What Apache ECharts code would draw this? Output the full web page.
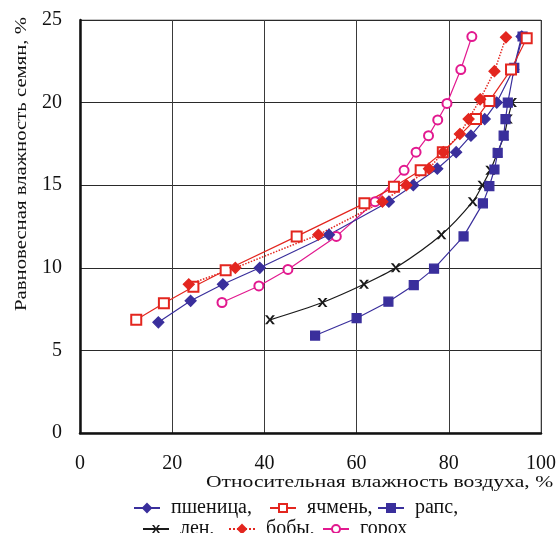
<!DOCTYPE html>
<html>
<head>
<meta charset="utf-8">
<script src="https://cdn.jsdelivr.net/npm/echarts@6/dist/echarts.min.js"></script>
<style>
  html, body { margin: 0; padding: 0; background: #fff; }
  #chart { width: 559px; height: 533px; }
</style>
</head>
<body>
<div id="chart"></div>
<script>
// Sorption isotherms: air relative humidity (%) vs. equilibrium seed moisture (%)
const xTicks = [0, 20, 40, 60, 80, 100];
const yTicks = [0, 5, 10, 15, 20, 25];

const wheat = [[17,6.7],[24,8],[31,9],[39,10],[54,12],[67,14],[72.3,15],[77.5,16],[81.6,17],[84.8,18],[87.8,19],[90.4,20],[94,22],[95.8,24]];
const barley = [[12.2,6.85],[18.2,7.85],[24.6,8.85],[31.6,9.85],[47,11.9],[61.7,13.9],[68.1,14.9],[73.9,15.9],[78.7,17],[85.9,19],[88.8,20.1],[93.5,22],[96.9,23.9]];
const rapeseed = [[51,5.9],[60,6.95],[66.9,7.95],[72.4,8.95],[76.8,9.95],[83.2,11.9],[87.4,13.9],[88.8,14.95],[89.9,15.95],[90.6,16.95],[91.9,18],[92.3,19],[92.8,20],[94.2,22.1],[96,24]];
const flax = [[41.2,6.85],[52.6,7.9],[61.6,9],[68.5,10],[78.4,12],[85.2,14],[87.3,15],[89,15.9],[90.6,17],[92,18],[92.8,19],[93.7,20]];
const beans = [[23.6,9],[33.7,10],[51.7,12],[65.6,14],[70.8,15],[75.7,16],[78.8,17],[82.4,18.1],[84.3,19],[86.8,20.2],[89.9,21.9],[92.4,23.95]];
const peas = [[30.8,7.9],[38.8,8.9],[45.1,9.9],[55.6,11.9],[64,14],[70.3,15.9],[72.9,17],[75.6,18],[77.6,18.95],[79.6,19.95],[82.6,22],[85,24]];

const names = ['пшеница', 'ячмень', 'рапс', 'лен', 'бобы', 'горох'];
const legendLabels = ['пшеница,', 'ячмень,', 'рапс,', 'лен,', 'бобы,', 'горох'];

const FONT = '"Liberation Serif", "DejaVu Serif", serif';
const NAVY = '#3a2f9c';
const RED = '#e3261f';
const MAGENTA = '#e2198f';
const BLACK = '#1a1a1a';

// serif-style "x" marker for flax
const xMark = 'path://M0,0 L3,0 L6,4 L9,0 L12,0 L7.5,5.5 L12,11 L9,11 L6,7 L3,11 L0,11 L4.5,5.5 Z';

function lineSeries(name, data, color, symbol, size, extra) {
  return Object.assign({
    name: name,
    type: 'line',
    data: data,
    symbol: symbol,
    symbolSize: size,
    showAllSymbol: true,
    lineStyle: { color: color, width: 1.2 },
    itemStyle: { color: color, borderColor: color, borderWidth: 1.2 },
    emphasis: { disabled: true },
    animation: false,
    z: 3
  }, extra || {});
}

// one legend per item so each entry sits at its own spot
const legendPos = [
  [133, 498], [269, 498], [377, 498],
  [142, 519], [228, 519], [322, 519]
];
const legends = names.map((n, i) => ({
  data: [n],
  left: legendPos[i][0],
  top: legendPos[i][1],
  itemWidth: 26,
  itemHeight: 10,
  padding: 0,
  selectedMode: false,
  formatter: () => legendLabels[i],
  textStyle: { fontFamily: FONT, fontSize: 20, color: '#111', padding: [0, 0, 0, 6] }
}));

const chart = echarts.init(document.getElementById('chart'), null, { renderer: 'canvas' });
chart.setOption({
  backgroundColor: '#fff',
  animation: false,
  grid: {
    left: 80, top: 20, right: 17, bottom: 100,
    show: true, borderColor: '#8a8a8a', borderWidth: 1
  },
  legend: legends,
  xAxis: {
    type: 'value',
    min: xTicks[0], max: xTicks[xTicks.length - 1], interval: 20,
    axisLine: { show: true, onZero: false, lineStyle: { color: '#111', width: 2.5 } },
    axisTick: { show: false },
    splitLine: { show: true, lineStyle: { color: '#3a3a3a', width: 1 } },
    axisLabel: { fontFamily: FONT, fontSize: 20, color: '#111', margin: 21 }
  },
  yAxis: {
    type: 'value',
    min: yTicks[0], max: yTicks[yTicks.length - 1], interval: 5,
    axisLine: { show: true, onZero: false, lineStyle: { color: '#111', width: 2.5 } },
    axisTick: { show: false },
    splitLine: { show: true, lineStyle: { color: '#2a2a2a', width: 1 } },
    axisLabel: { fontFamily: FONT, fontSize: 20, color: '#111', margin: 18 }
  },
  graphic: [
    {
      type: 'text',
      x: 206, y: 474,
      scaleX: 1.27,
      style: { text: 'Относительная влажность воздуха, %', font: '17px ' + FONT, fill: '#111' }
    },
    {
      type: 'text',
      x: 13, y: 311,
      rotation: Math.PI / 2,
      scaleX: 1.22,
      style: { text: 'Равновесная влажность семян, %', font: '17px ' + FONT, fill: '#111',
               textAlign: 'left', textVerticalAlign: 'top' }
    }
  ],
  series: [
    lineSeries('лен', flax, BLACK, xMark, [10, 9], { smooth: 0.3, itemStyle: { color: BLACK, borderWidth: 0 } }),
    lineSeries('рапс', rapeseed, NAVY, 'rect', 9),
    lineSeries('горох', peas, MAGENTA, 'emptyCircle', 9),
    lineSeries('пшеница', wheat, NAVY, 'diamond', 11),
    lineSeries('ячмень', barley, RED, 'emptyRect', 10),
    lineSeries('бобы', beans, RED, 'diamond', 11, { lineStyle: { color: RED, width: 1.5, type: 'dotted' } })
  ]
});
</script>
</body>
</html>
